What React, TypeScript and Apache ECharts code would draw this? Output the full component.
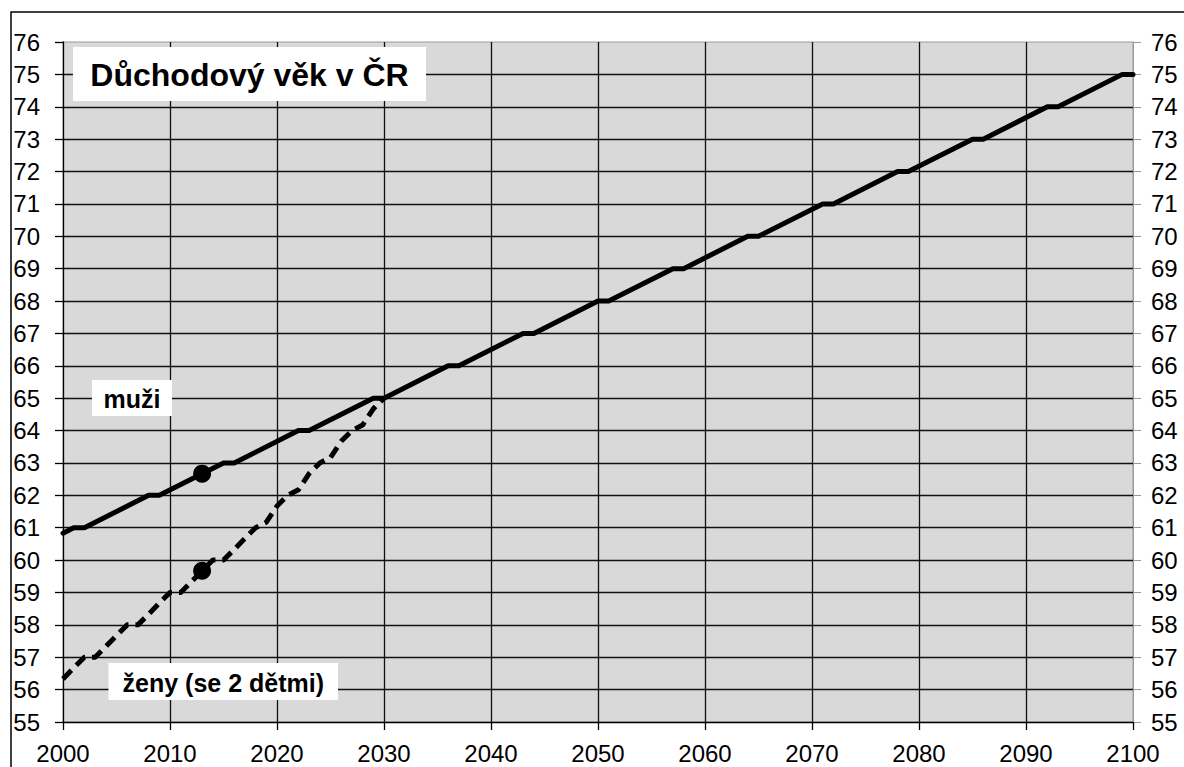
import React, { useEffect, useRef } from "react";
import * as echarts from "echarts";

// Men: break points of the retirement-age line (year, age)
const menYears = [2000, 2001, 2002, 2008, 2009, 2015, 2016, 2022, 2023, 2029, 2030, 2036, 2037, 2043, 2044, 2050, 2051, 2057, 2058, 2064, 2065, 2071, 2072, 2078, 2079, 2085, 2086, 2092, 2093, 2099, 2100];
const menAges = [60.83, 61, 61, 62, 62, 63, 63, 64, 64, 65, 65, 66, 66, 67, 67, 68, 68, 69, 69, 70, 70, 71, 71, 72, 72, 73, 73, 74, 74, 75, 75];

// Women with 2 children: yearly values 2000..2030
const womenYears = [2000, 2001, 2002, 2003, 2004, 2005, 2006, 2007, 2008, 2009, 2010, 2011, 2012, 2013, 2014, 2015, 2016, 2017, 2018, 2019, 2020, 2021, 2022, 2023, 2024, 2025, 2026, 2027, 2028, 2029, 2030];
const womenAges = [56.33, 56.67, 57, 57, 57.33, 57.67, 58, 58, 58.33, 58.67, 59, 59, 59.33, 59.67, 60, 60, 60.33, 60.67, 61, 61.17, 61.67, 62, 62.17, 62.67, 63, 63.17, 63.67, 64, 64.17, 64.67, 65];

// Highlighted points (current year)
const markYears = [2013, 2013];
const markAges = [62.67, 59.67];

const titleText = "Důchodový věk v ČR";
const menLabel = "muži";
const womenLabel = "ženy (se 2 dětmi)";

const FONT = "'Liberation Sans', Arial, sans-serif";

export default function App() {
  const ref = useRef<HTMLDivElement>(null);

  useEffect(() => {
    if (!ref.current) return;
    const chart = echarts.init(ref.current, undefined, { renderer: "svg" });

    const menData = menYears.map((y, i) => [y, menAges[i]]);
    const womenData = womenYears.map((y, i) => [y, womenAges[i]]);
    const markData = markYears.map((y, i) => [y, markAges[i]]);

    const labelBox = (x: number, y: number, w: number, h: number, text: string, size: number) => ({
      type: "group",
      z: 1,
      children: [
        { type: "rect", z: 1, shape: { x, y, width: w, height: h }, style: { fill: "#ffffff" } },
        {
          type: "text",
          z: 1,
          x: x + w / 2,
          y: y + h / 2 + 1,
          style: {
            text,
            fill: "#000",
            font: `bold ${size}px ${FONT}`,
            align: "center",
            verticalAlign: "middle",
          },
        },
      ],
    });

    chart.setOption({
      animation: false,
      backgroundColor: "#ffffff",
      grid: {
        left: 63,
        right: 51,
        top: 42,
        bottom: 45,
        show: true,
        backgroundColor: "#d9d9d9",
        borderColor: "#9a9a9a",
        borderWidth: 1,
      },
      xAxis: {
        type: "value",
        min: 2000,
        max: 2100,
        interval: 10,
        axisLine: { show: true, onZero: false, lineStyle: { color: "#000", width: 1.3 } },
        axisTick: { show: true, length: 8, lineStyle: { color: "#000", width: 1.3 } },
        axisLabel: {
          fontSize: 24,
          color: "#000",
          fontFamily: FONT,
          margin: 19,
          formatter: (v: number) => String(v),
        },
        splitLine: { show: true, showMinLine: false, showMaxLine: false, lineStyle: { color: "#111", width: 1.3 } },
      },
      yAxis: [
        {
          type: "value",
          position: "left",
          min: 55,
          max: 76,
          interval: 1,
          axisLine: { show: true, onZero: false, lineStyle: { color: "#000", width: 1.3 } },
          axisTick: { show: true, length: 8, lineStyle: { color: "#000", width: 1.3 } },
          axisLabel: { fontSize: 24, color: "#000", fontFamily: FONT, margin: 23 },
          splitLine: { show: true, showMinLine: false, showMaxLine: false, lineStyle: { color: "#111", width: 1.3 } },
        },
        {
          type: "value",
          position: "right",
          min: 55,
          max: 76,
          interval: 1,
          axisLine: { show: true, onZero: false, lineStyle: { color: "#9a9a9a", width: 1 } },
          axisTick: { show: true, length: 8, lineStyle: { color: "#9a9a9a", width: 1 } },
          axisLabel: { fontSize: 24, color: "#000", fontFamily: FONT, margin: 18 },
          splitLine: { show: false },
        },
      ],
      series: [
        {
          name: "muži",
          type: "line",
          data: menData,
          yAxisIndex: 0,
          showSymbol: false,
          symbol: "none",
          lineStyle: { color: "#000", width: 5, join: "round", cap: "round" },
          z: 3,
        },
        {
          name: "ženy",
          type: "line",
          data: womenData,
          yAxisIndex: 0,
          showSymbol: false,
          symbol: "none",
          lineStyle: { color: "#000", width: 5, type: [12, 7], join: "round", cap: "butt" },
          z: 3,
        },
        {
          name: "2013",
          type: "scatter",
          data: markData,
          yAxisIndex: 0,
          symbol: "circle",
          symbolSize: 18,
          itemStyle: { color: "#000", opacity: 1 },
          z: 4,
        },
      ],
      graphic: [
        {
          type: "rect",
          z: 0,
          shape: { x: 11, y: 12, width: 1300, height: 900 },
          style: { fill: "none", stroke: "#000", lineWidth: 1.5 },
        },
        labelBox(73, 47, 353, 54, titleText, 32),
        labelBox(92, 380, 80, 36, menLabel, 25),
        labelBox(108.5, 663, 229.5, 37, womenLabel, 25),
      ],
    });

    return () => chart.dispose();
  }, []);

  return (
    <div
      ref={ref}
      style={{ position: "fixed", left: 0, top: 0, width: 1184, height: 767, background: "#fff" }}
    />
  );
}
